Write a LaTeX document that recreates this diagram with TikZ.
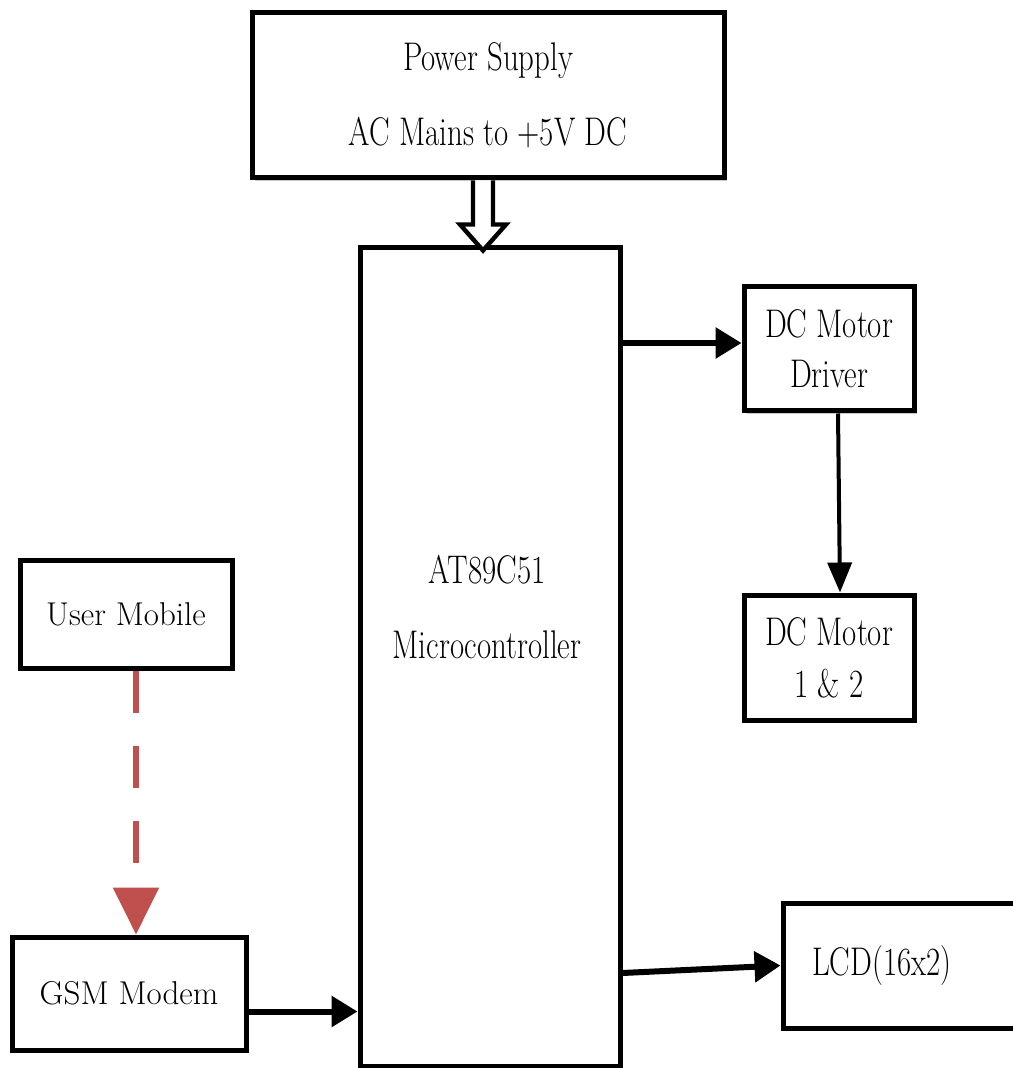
\documentclass[tikz,border=0pt]{standalone}
\usepackage{fontspec}
\usepackage{graphicx}
\usetikzlibrary{arrows.meta,shadows,calc}
\newcommand\sq[1]{\scalebox{0.77}[1]{#1}}
\definecolor{redarrow}{HTML}{C0504D}
\begin{document}
\begin{tikzpicture}[x=0.5pt,y=-0.5pt,
  box/.style={draw=black, line width=2.5pt, fill=white, inner sep=0pt,
    drop shadow={shadow xshift=1.5pt, shadow yshift=-1.5pt, fill=gray!70, opacity=0.6},
    font=\fontsize{20}{24}\selectfont, align=center},
  tbox/.style={box, font=\fontsize{16.5}{20}\selectfont},
  conn/.style={line width=3pt, -{Triangle[length=13pt,width=15pt]}},
  hollow/.style={line width=2.2pt, draw=black, fill=white, line join=miter},
  redconn/.style={line width=3pt, draw=redarrow, dash pattern=on 21pt off 16.5pt,
    -{Triangle[length=23.5pt,width=22.5pt,fill=redarrow,color=redarrow]}}
]
\useasboundingbox (0,0) rectangle (1012,1068);
\fill[white] (0,0) rectangle (1012,1068);

% nodes
\node[box, minimum width=236pt, minimum height=82.5pt] (ps) at (488,95.5)
  {\sq{Power Supply}\\[13.5pt]\sq{AC Mains to +5V DC}};
\node[box, minimum width=130pt, minimum height=409pt] (mc) at (490,657) {};
\node[font=\fontsize{20}{24}\selectfont, align=center] (mct) at (487,607)
  {\sq{AT89C51}\\[13.5pt]\sq{Microcontroller}};
\node[box, minimum width=85pt, minimum height=62pt] (drv) at (829,349)
  {\sq{DC Motor}\\[1pt]\sq{Driver}};
\node[box, minimum width=85pt, minimum height=62.5pt] (mot) at (829,657.5)
  {\sq{DC Motor}\\[2pt]\sq{1 \& 2}};
\node[box, text width=89.5pt, inner xsep=14.5pt, minimum height=62.5pt, align=left] (lcd) at (901.5,965.5)
  {\sq{LCD(16x2)}};
\node[tbox, minimum width=106pt, minimum height=54pt] (um) at (126,614) {User Mobile};
\node[tbox, minimum width=117pt, minimum height=56.5pt] (gsm) at (129,993.5) {GSM Modem};

% hollow power arrow
\coordinate (pwr) at (ps.south -| 483,0);
\draw[hollow] (pwr) +(-10,0) -- +(-10,44) -- +(-23,44) -- +(0,70) -- +(23,44) -- +(10,44) -- +(10,0);

% connectors
\draw[conn] ([yshift=3pt]drv.west -| mc.east) -- ([yshift=3pt]drv.west);
\draw[line width=2pt, -{Triangle[length=15pt,width=12pt]}] ([xshift=4.5pt]drv.south) -- ([xshift=5.5pt]mot.north);
\draw[conn] ([yshift=-3.75pt]lcd.west -| mc.east) -- (lcd.west);
\draw[conn] ([yshift=-9pt]gsm.east) -- ([yshift=-9pt]gsm.east -| mc.west);
\draw[redconn] ([xshift=5pt]um.south) -- ([xshift=3.5pt]gsm.north);
\end{tikzpicture}
\end{document}
